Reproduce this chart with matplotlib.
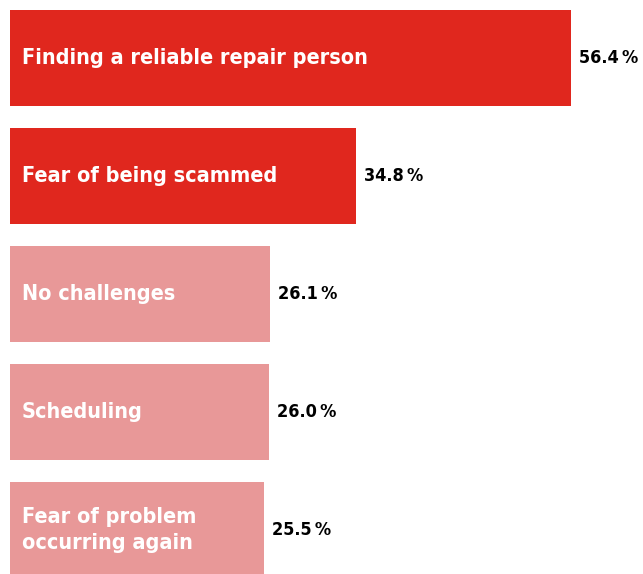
import matplotlib
matplotlib.use("Agg")
import matplotlib.pyplot as plt

categories = ["Finding a reliable repair person", "Fear of being scammed", "No challenges",
              "Scheduling", "Fear of problem\noccurring again"]
values = [56.4, 34.8, 26.1, 26.0, 25.5]
value_labels = ["56.4\u2009%", "34.8\u2009%", "26.1\u2009%", "26.0\u2009%", "25.5\u2009%"]
colors = ["#E0271E", "#E0271E", "#E89898", "#E89898", "#E89898"]

plt.rcParams['font.family'] = ["DejaVu Sans"]

fig = plt.figure(figsize=(6.43, 5.74), dpi=100)
ax = fig.add_axes([10/643, 0, 633/643, 1])

ypos = list(range(len(values)))
ax.barh(ypos, values, height=96/118, color=colors)

for i in ypos:
    ax.text(1.2, i, categories[i], color="white", fontsize=15.5, fontweight="bold",
            va="center", ha="left", linespacing=1.35, stretch="condensed")
    ax.text(values[i] + 0.8, i, value_labels[i], color="black", fontsize=13, fontweight="bold",
            va="center", ha="left", stretch="condensed")

ax.set_xlim(0, 633/9.947)
ax.set_ylim(4 + 44/118, -58/118)
ax.axis("off")

fig.savefig("out.png", dpi=100)
